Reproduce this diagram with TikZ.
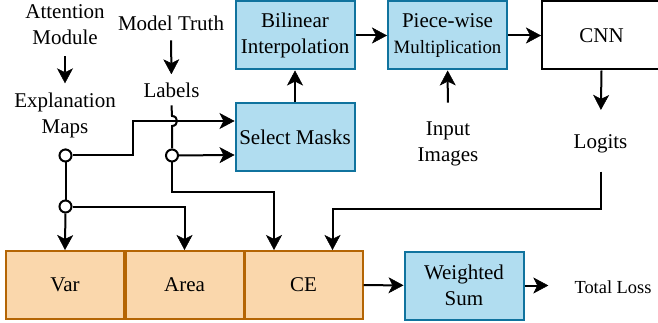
\documentclass[tikz,border=0pt]{standalone}
\usepackage{fontspec}
\setmainfont{Liberation Serif}
\usetikzlibrary{arrows.meta}
\definecolor{bluefill}{HTML}{B1DDF0}
\definecolor{bluedraw}{HTML}{10739E}
\definecolor{orfill}{HTML}{FAD7AC}
\definecolor{ordraw}{HTML}{B46504}
\tikzset{
  boxbase/.style={draw, line width=2pt, inner sep=0pt, minimum height=68pt, align=center,
    font=\fontsize{21}{25.5}\selectfont},
  bluebox/.style={boxbase, fill=bluefill, draw=bluedraw, minimum width=119pt},
  orbox/.style={boxbase, fill=orfill, draw=ordraw, minimum width=118pt},
  plainbox/.style={boxbase, fill=white, draw=black, minimum width=119pt},
  lbl/.style={inner sep=0pt, align=center, font=\fontsize{21}{26}\selectfont},
  junction/.style={circle, draw, fill=white, line width=2pt, minimum size=12pt, inner sep=0pt},
  wire/.style={line width=2pt},
  arrowtip/.tip={Stealth[length=15pt, width=16pt, inset=4pt, line width=0.5pt]},
  arr/.style={wire, -arrowtip},
}
\begin{document}
\begin{tikzpicture}[x=1pt, y=-1pt]
\useasboundingbox (0,0) rectangle (658,323);

% boxes
\node[bluebox] (bil) at (295,35.5) {Bilinear\\Interpolation};
\node[bluebox] (pw) at (447.5,35.5) {Piece-wise\\{\fontsize{18.8}{25.5}\selectfont Multiplication}};
\node[plainbox] (cnn) at (601.5,35.5) {CNN};
\node[bluebox] (sel) at (295,137.5) {Select Masks};
\node[orbox] (var) at (65,285) {Var};
\node[orbox] (area) at (184.5,285) {Area};
\node[orbox] (ce) at (303.5,285) {CE};
\node[bluebox] (ws) at (464,285.5) {Weighted\\Sum};

% text labels
\node[lbl] (att) at (65,25) {Attention\\Module};
\node[lbl] (expl) at (65,115) {Explanation\\Maps};
\node[lbl, anchor=base] (mt) at (171,31) {Model Truth};
\node[lbl, anchor=base] (lab) at (171.5,98) {Labels};
\node[lbl] (inp) at (448,144) {Input\\Images};
\node[lbl, anchor=base] (log) at (600.5,149) {Logits};
\node[lbl, anchor=base, font=\fontsize{18.4}{22}\selectfont] (tl) at (613,293) {Total Loss};

% junctions
\node[junction] (c1) at (65.5,155.5) {};
\node[junction] (c2) at (172,155.5) {};
\node[junction] (c3) at (65.5,206.5) {};
\coordinate (hopA) at (172,116);
\coordinate (hopB) at (172,126);

% connectors
\draw[arr, shorten <=11pt, shorten >=9pt] (att) -- (expl);
\draw[arr, shorten <=9pt, shorten >=9pt] (mt) -- (lab);
\draw[wire, shorten <=11pt] (expl) -- (c1);
\draw[arr] (c1) -- (133,155.5) |- ([yshift=16.5pt]sel.west);
\draw[wire] ([yshift=-7pt]lab.south) -- (hopA) .. controls +(6.7,0) and +(6.7,0) .. (hopB) -- (c2);
\draw[arr] (c2) -- ([yshift=-17.5pt]sel.west);
\draw[wire] (c1) -- (c3);
\draw[arr] (c3) -- (var.north);
\draw[arr] (c3) -| (area.north);
\draw[arr] (c2) -- (172,191.7) -| ([xshift=-29.5pt]ce.north);
\draw[arr, shorten <=18pt] (log) -- (600.5,209.3) -| ([xshift=29pt]ce.north);
\draw[arr, shorten >=25pt] (cnn.south) -- (log.north);
\draw[arr] (sel) -- (bil);
\draw[arr] (bil) -- (pw);
\draw[arr, shorten <=19pt] (inp) -- (pw);
\draw[arr] (pw) -- (cnn);
\draw[arr] (ce) -- (ws);
\draw[arr, shorten >=26pt] (ws.east) -- (ws.east -| tl.west);
\end{tikzpicture}
\end{document}
